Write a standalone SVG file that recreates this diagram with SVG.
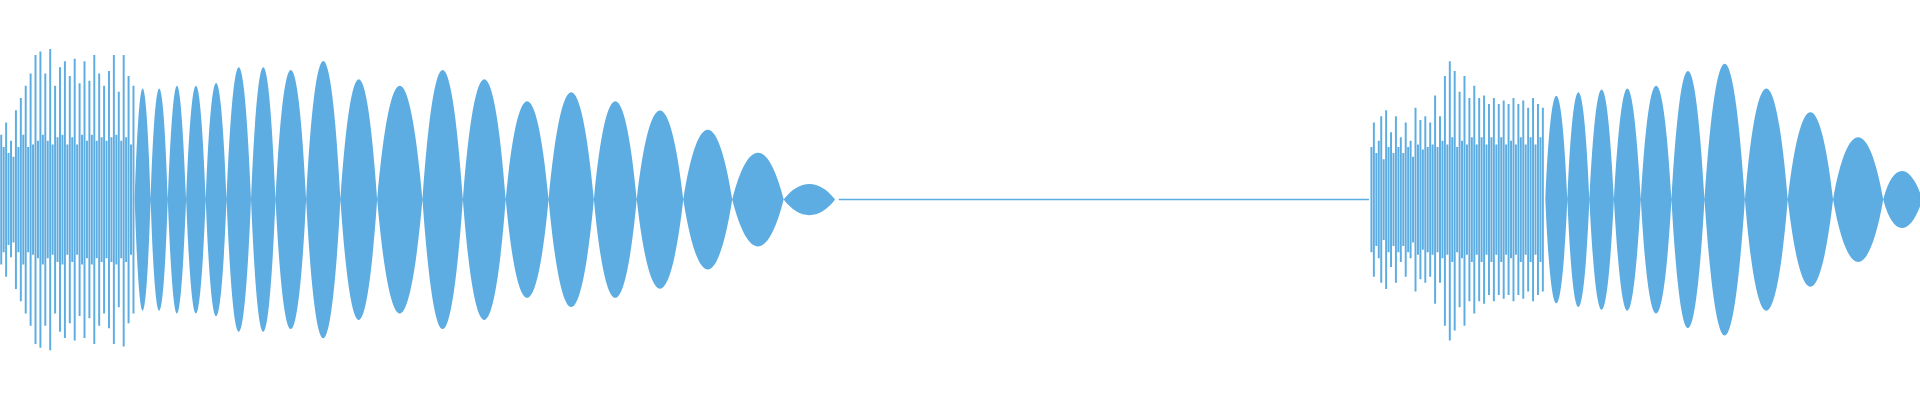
<svg xmlns="http://www.w3.org/2000/svg" width="1920" height="400" viewBox="0 0 1920 400">
<style>.w{fill:#5dade2}.s{stroke:#5dade2;fill:none}</style>
<rect width="1920" height="400" fill="#fff"/>
<g transform="scale(1.22449)">
<path class="s" stroke-width="1.2" d="M685 163H1118"/>
<path class="s" stroke-width="1.6" d="M1 110V216M3 120V206M5 100V226M7 125V200M9 115V210M11 128V198M13 90V236M15 120V206M17 80V246M19 110V216M21 70V256M23 120V206M25 60V266M27 118V208M29 45V281M31 115V211M33 42V284M35 110V216M37 60V266M39 115V211M41 40V286M43 118V208M45 70V256M47 112V214M49 55V271M51 110V216M53 50V276M55 118V208M57 62V264M59 112V214M61 48V278M63 118V208M65 68V258M67 110V216M69 50V276M71 115V211M73 66V260M75 110V216M77 45V281M79 115V211M81 60V266M83 112V214M85 70V256M87 115V211M89 58V268M91 112V214M93 45V281M95 110V216M97 75V251M99 115V211M101 45V283M103 112V214M105 62V264M107 118V208M109 70V256
M1120 120V206M1122 100V226M1124 125V201M1126 115V211M1128 95V231M1130 130V196M1132 90V236M1134 120V206M1136 108V218M1138 125V201M1140 95V231M1142 120V206M1144 112V214M1146 125V201M1148 100V226M1150 120V206M1152 115V211M1154 128V198M1156 88V238M1158 118V208M1160 98V228M1162 122V204M1164 95V231M1166 120V206M1168 100V226M1170 118V208M1172 78V248M1174 120V206M1176 95V231M1178 115V211M1180 62V266M1182 118V208M1184 50V278M1186 112V214M1188 58V270M1190 120V206M1192 75V251M1194 115V211M1196 62V266M1198 118V208M1200 80V246M1202 112V214M1204 70V256M1206 118V208M1208 80V246M1210 112V214M1212 78V248M1214 118V208M1216 85V241M1218 112V214M1220 80V246M1222 118V208M1224 85V241M1226 112V214M1228 82V244M1230 118V208M1232 85V241M1234 115V211M1236 80V246M1238 118V208M1240 85V241M1242 112V214M1244 82V244M1246 118V208M1248 88V238M1250 112V214M1252 80V246M1254 118V208M1256 85V241M1258 112V214M1260 88V238"/>
<path class="w" d="
M110 163C114 42 119 42 123 163C119 284 114 284 110 163Z
M123 163C127 42 133 42 137 163C133 284 127 284 123 163Z
M137 163C142 39 147 39 152 163C147 287 142 287 137 163Z
M152 163C157 39 163 39 168 163C163 287 157 287 152 163Z
M168 163C173 36 180 36 185 163C180 290 173 290 168 163Z
M185 163C191 19 199 19 205 163C199 307 191 307 185 163Z
M205 163C211 19 219 19 225 163C219 307 211 307 205 163Z
M225 163C232 22 243 22 250 163C243 304 232 304 225 163Z
M250 163C258 12 270 12 278 163C270 314 258 314 250 163Z
M278 163C287 32 299 32 308 163C299 294 287 294 278 163Z
M308 163C319 39 334 39 345 163C334 287 319 287 308 163Z
M345 163C355 22 368 22 378 163C368 304 355 304 345 163Z
M378 163C388 32 403 32 413 163C403 294 388 294 378 163Z
M413 163C423 56 438 56 448 163C438 270 423 270 413 163Z
M448 163C459 46 474 46 485 163C474 280 459 280 448 163Z
M485 163C495 56 510 56 520 163C510 270 495 270 485 163Z
M520 163C531 66 547 66 558 163C547 260 531 260 520 163Z
M558 163C570 87 586 87 598 163C586 239 570 239 558 163Z
M598 163C611 112 627 112 640 163C627 214 611 214 598 163Z
M640 163C653 146 669 146 682 163C669 180 653 180 640 163Z
M1262 163C1267 50 1275 50 1280 163C1275 276 1267 276 1262 163Z
M1280 163C1285 46 1293 46 1298 163C1293 280 1285 280 1280 163Z
M1298 163C1304 43 1312 43 1318 163C1312 283 1304 283 1298 163Z
M1318 163C1325 42 1333 42 1340 163C1333 284 1325 284 1318 163Z
M1340 163C1347 39 1358 39 1365 163C1358 287 1347 287 1340 163Z
M1365 163C1373 23 1384 23 1392 163C1384 303 1373 303 1365 163Z
M1392 163C1402 15 1415 15 1425 163C1415 311 1402 311 1392 163Z
M1425 163C1435 42 1450 42 1460 163C1450 284 1435 284 1425 163Z
M1460 163C1471 68 1486 68 1497 163C1486 258 1471 258 1460 163Z
M1497 163C1509 95 1526 95 1538 163C1526 231 1509 231 1497 163Z
M1538 163C1546 132 1560 132 1570 163C1560 194 1546 194 1538 163Z
M1570 163C1572 140 1574 140 1576 163C1574 186 1572 186 1570 163Z"/>
</g>
</svg>
